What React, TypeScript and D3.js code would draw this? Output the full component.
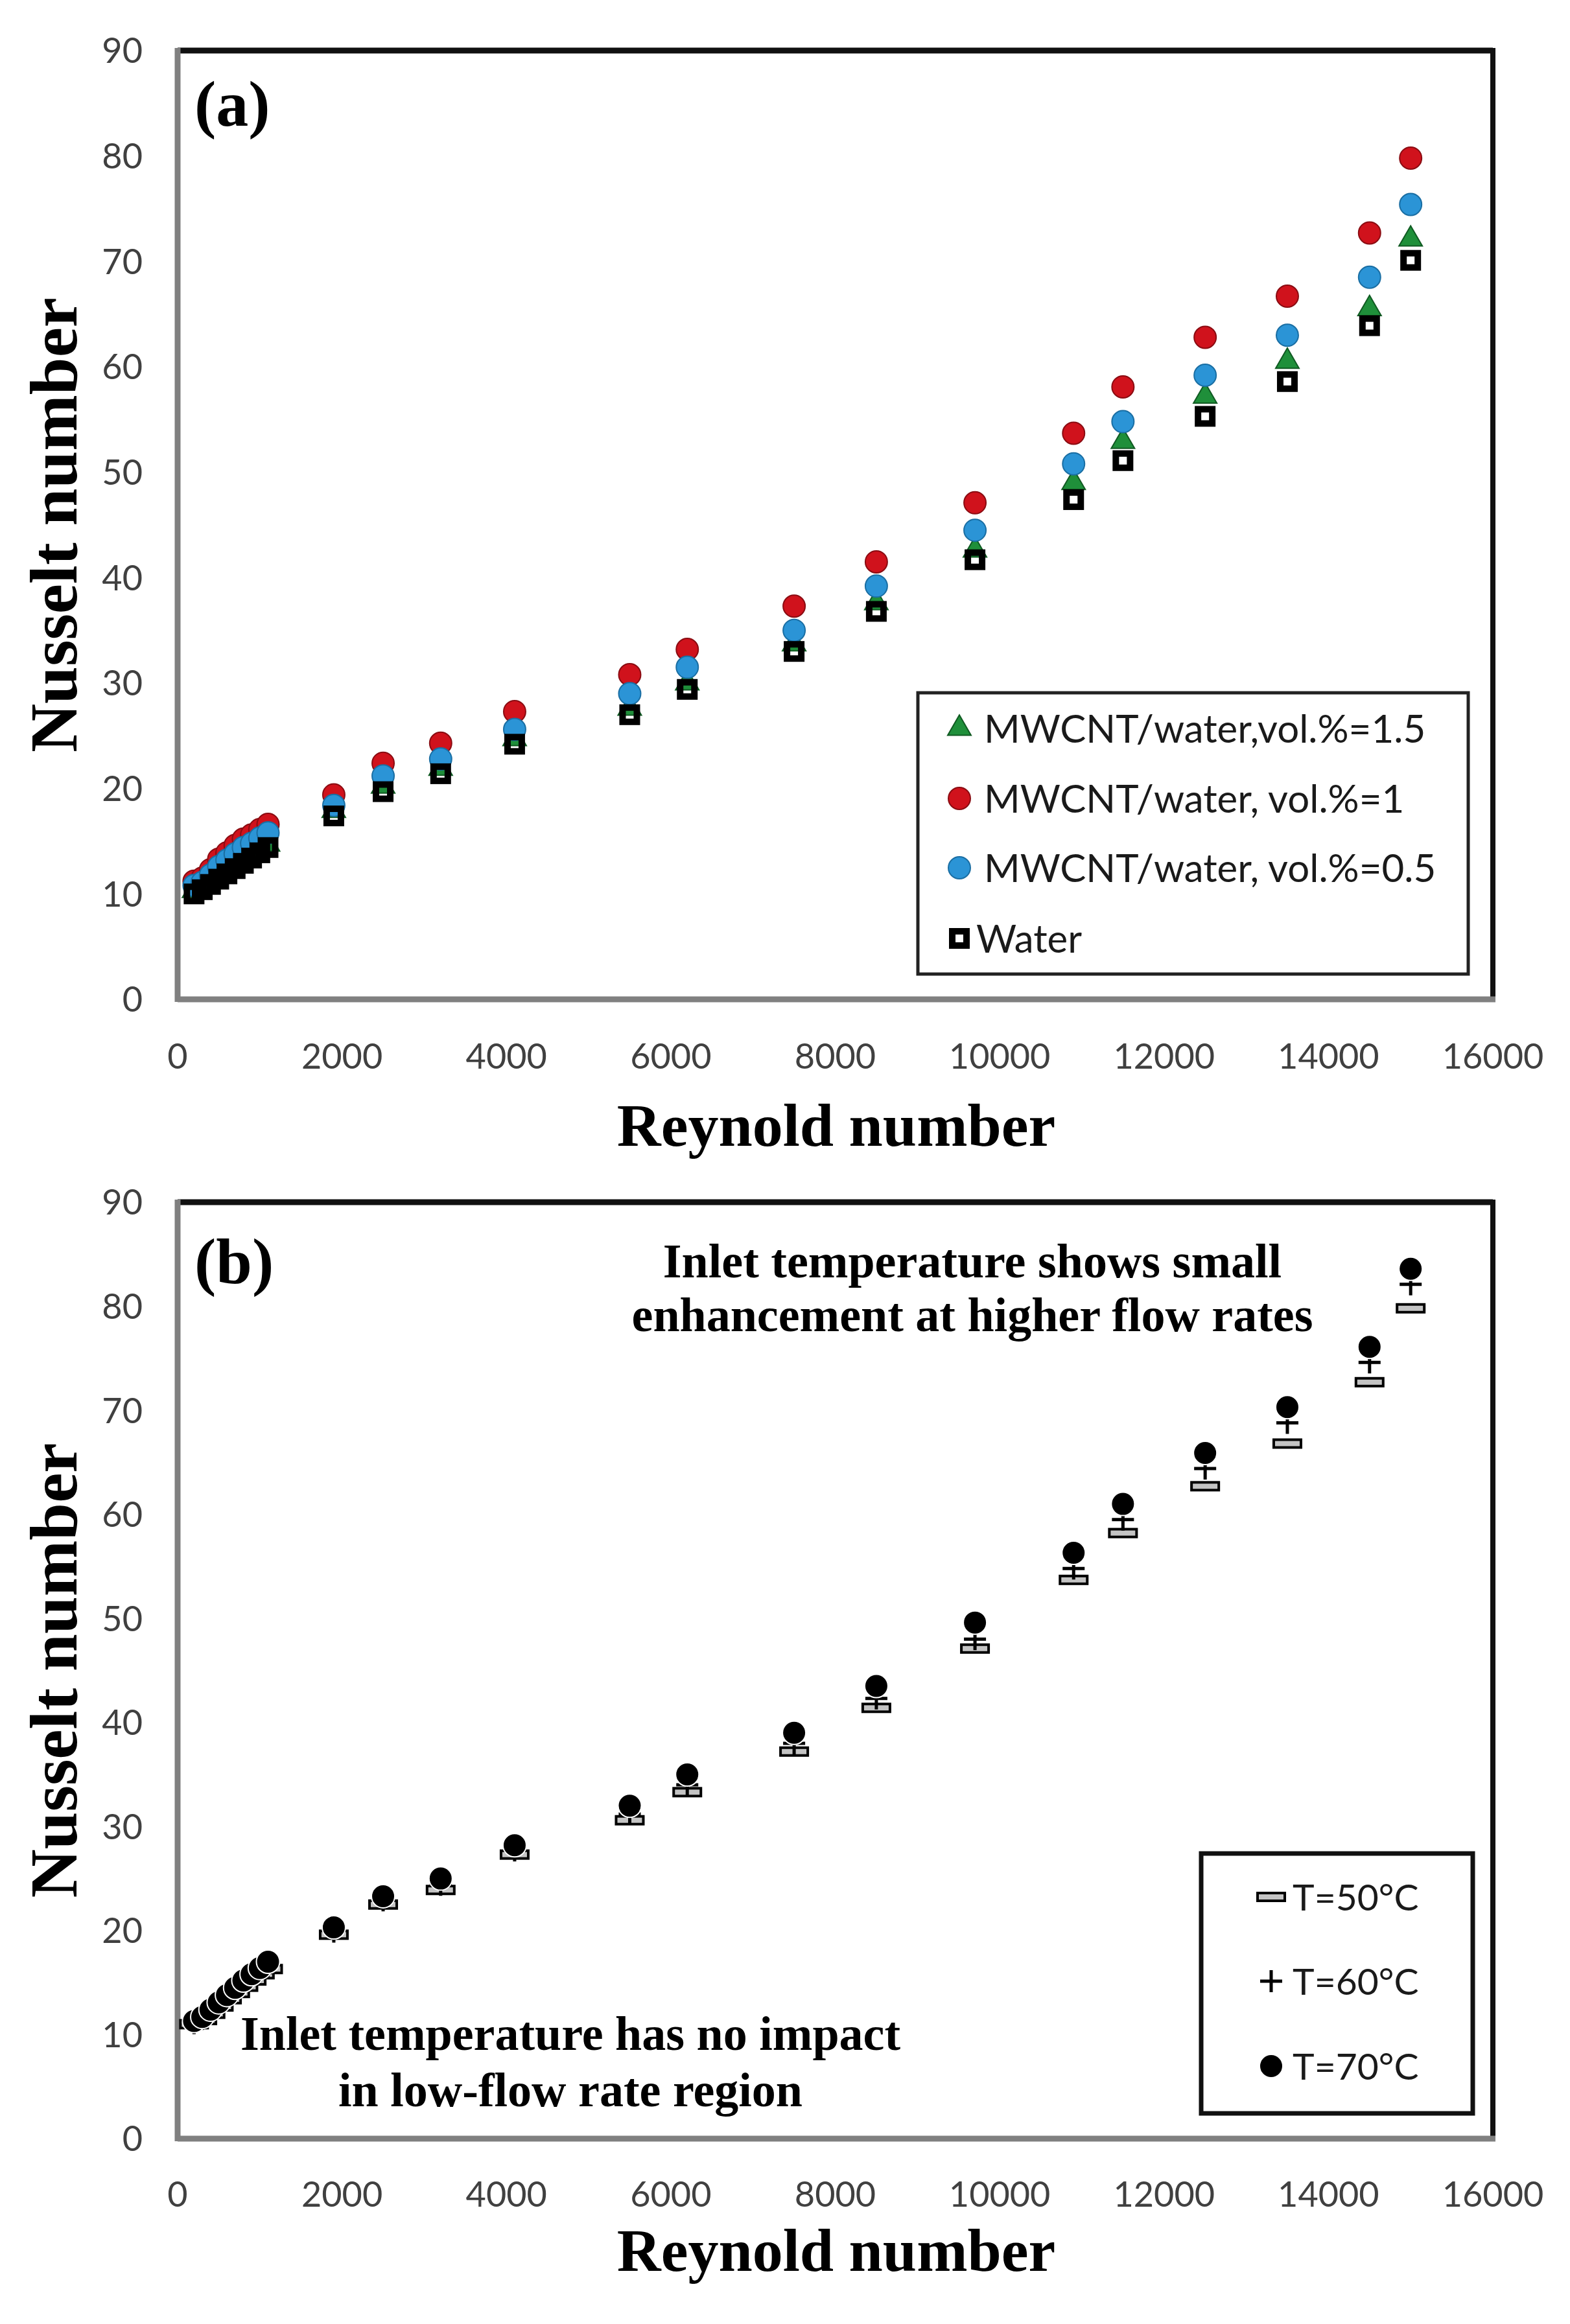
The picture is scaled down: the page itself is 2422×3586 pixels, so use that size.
import * as d3 from "d3";

// Figure geometry (pixels of the 2422x3586 canvas)
const W = 2422;
const H = 3586;
const PLOT_LEFT = 274;
const PLOT_RIGHT = 2303;

// Shared x values (Reynolds number) for both panels
const reynolds = [
  200, 300, 400, 500, 600, 700, 800, 900, 1000, 1100, 1900, 2500, 3200, 4100,
  5500, 6200, 7500, 8500, 9700, 10900, 11500, 12500, 13500, 14500, 15000,
];

// Panel (a): Nusselt number per fluid
const nuVol15 = [
  10.3, 10.7, 11.2, 11.7, 12.2, 12.7, 13.2, 13.7, 14.2, 14.7, 17.9, 20.2, 21.9,
  24.7, 27.6, 30.0, 33.7, 37.6, 42.6, 49.0, 52.9, 57.2, 60.5, 65.5, 72.1,
];
const nuVol1 = [
  11.2, 11.5, 12.3, 13.3, 13.9, 14.6, 15.2, 15.6, 16.1, 16.6, 19.4, 22.4, 24.3,
  27.3, 30.8, 33.2, 37.3, 41.5, 47.1, 53.7, 58.1, 62.8, 66.7, 72.7, 79.8,
];
const nuVol05 = [
  10.8, 11.1, 11.8, 12.6, 13.2, 13.8, 14.4, 14.8, 15.3, 15.8, 18.4, 21.2, 22.8,
  25.6, 29.0, 31.5, 35.0, 39.2, 44.5, 50.8, 54.8, 59.2, 63.0, 68.5, 75.4,
];
const nuWater = [
  10.0, 10.4, 10.9, 11.4, 11.9, 12.4, 12.9, 13.4, 13.9, 14.4, 17.4, 19.7, 21.4,
  24.2, 27.0, 29.4, 33.0, 36.8, 41.7, 47.4, 51.1, 55.3, 58.6, 63.9, 70.1,
];

// Panel (b): Nusselt number per inlet temperature
const nuT50 = [
  11.0, 11.4, 12.0, 12.7, 13.4, 14.0, 14.6, 15.2, 15.8, 16.3, 19.6, 22.5, 23.9,
  27.3, 30.6, 33.3, 37.2, 41.4, 47.1, 53.7, 58.2, 62.7, 66.8, 72.7, 79.8,
];
const nuT60 = [
  11.1, 11.5, 12.2, 12.9, 13.6, 14.3, 14.9, 15.5, 16.1, 16.6, 19.9, 22.9, 24.4,
  27.7, 31.2, 34.0, 38.0, 42.3, 48.0, 54.8, 59.5, 64.4, 68.8, 74.6, 82.1,
];
const nuT70 = [
  11.3, 11.7, 12.4, 13.1, 13.8, 14.5, 15.2, 15.8, 16.4, 17.0, 20.3, 23.3, 25.0,
  28.2, 32.0, 35.0, 39.0, 43.5, 49.6, 56.3, 61.0, 65.9, 70.3, 76.1, 83.6,
];

const legendA = [
  "MWCNT/water,vol.%=1.5",
  "MWCNT/water, vol.%=1",
  "MWCNT/water, vol.%=0.5",
  "Water",
];
const legendB = ["T=50°C", "T=60°C", "T=70°C"];
const noteHigh = ["Inlet temperature shows small", "enhancement at higher flow rates"];
const noteLow = ["Inlet temperature has no impact", "in low-flow rate region"];

const SANS = "Lato, 'Open Sans', sans-serif";
const SERIF = "'Liberation Serif', 'DejaVu Serif', serif";

type Kind = "triangle" | "red" | "blue" | "square" | "dash" | "plus" | "dot";

const triPath = d3.symbol(d3.symbolTriangle, 560)() ?? "";

function Marker({ kind, cx, cy }: { kind: Kind; cx: number; cy: number }) {
  switch (kind) {
    case "triangle":
      return (
        <path
          d={triPath}
          transform={`translate(${cx},${cy})`}
          fill="#1f8f3a"
          stroke="#105a22"
          strokeWidth={2}
        />
      );
    case "red":
      return <circle cx={cx} cy={cy} r={17} fill="#d0121c" stroke="#8a0c12" strokeWidth={2} />;
    case "blue":
      return <circle cx={cx} cy={cy} r={17} fill="#2b94d6" stroke="#1a6ea3" strokeWidth={2} />;
    case "square":
      return (
        <rect x={cx - 11} y={cy - 11} width={22} height={22} fill="none" stroke="#000" strokeWidth={10} />
      );
    case "dash":
      return (
        <rect x={cx - 21} y={cy - 6} width={42} height={12} fill="#c4c4c4" stroke="#000" strokeWidth={4} />
      );
    case "plus":
      return (
        <path
          d={`M${cx - 17},${cy}H${cx + 17}M${cx},${cy - 17}V${cy + 17}`}
          stroke="#000"
          strokeWidth={5}
          fill="none"
        />
      );
    default:
      return <circle cx={cx} cy={cy} r={18} fill="#000" stroke="#fff" strokeWidth={2} />;
  }
}

type Scales = {
  x: d3.ScaleLinear<number, number>;
  y: d3.ScaleLinear<number, number>;
};

function Panel({
  top,
  bottom,
  tag,
  tagY,
  tickY,
  titleY,
  children,
}: {
  top: number;
  bottom: number;
  tag: string;
  tagY: number;
  tickY: number;
  titleY: number;
  children: (s: Scales) => React.ReactNode;
}) {
  const x = d3.scaleLinear([0, 16000], [PLOT_LEFT, PLOT_RIGHT]);
  const y = d3.scaleLinear([0, 90], [bottom, top]);
  const midY = (top + bottom) / 2;

  return (
    <g>
      {/* tick labels */}
      {y.ticks(9).map((t) => (
        <text
          key={`y${t}`}
          x={220}
          y={y(t)}
          dy="0.36em"
          textAnchor="end"
          fontFamily={SANS}
          fontSize={54}
          fill="#404040"
        >
          {t}
        </text>
      ))}
      {x.ticks(8).map((t) => (
        <text
          key={`x${t}`}
          x={x(t)}
          y={tickY}
          textAnchor="middle"
          fontFamily={SANS}
          fontSize={54}
          fill="#404040"
        >
          {t}
        </text>
      ))}

      {/* frame: grey axes, black border */}
      <line x1={PLOT_LEFT} x2={PLOT_RIGHT} y1={top} y2={top} stroke="#111" strokeWidth={9} />
      <line x1={PLOT_RIGHT} x2={PLOT_RIGHT} y1={top - 4} y2={bottom} stroke="#111" strokeWidth={8} />
      <line x1={PLOT_LEFT} x2={PLOT_LEFT} y1={top - 4} y2={bottom + 4} stroke="#808080" strokeWidth={9} />
      <line x1={PLOT_LEFT} x2={PLOT_RIGHT + 4} y1={bottom} y2={bottom} stroke="#808080" strokeWidth={9} />

      {/* titles */}
      <text
        x={1290}
        y={titleY}
        textAnchor="middle"
        fontFamily={SERIF}
        fontWeight="bold"
        fontSize={94}
      >
        Reynold number
      </text>
      <text
        transform={`translate(118,${midY}) rotate(-90)`}
        textAnchor="middle"
        fontFamily={SERIF}
        fontWeight="bold"
        fontSize={104}
      >
        Nusselt number
      </text>
      <text x={300} y={tagY} fontFamily={SERIF} fontWeight="bold" fontSize={100}>
        {tag}
      </text>

      {children({ x, y })}
    </g>
  );
}

function PanelA() {
  const series: { kind: Kind; values: number[] }[] = [
    { kind: "triangle", values: nuVol15 },
    { kind: "red", values: nuVol1 },
    { kind: "blue", values: nuVol05 },
    { kind: "square", values: nuWater },
  ];
  const rowY = [1124, 1232, 1339, 1448];
  return (
    <Panel top={78} bottom={1542} tag="(a)" tagY={194} tickY={1649} titleY={1768}>
      {({ x, y }) => (
        <g>
          {series.map((s) => (
            <g key={s.kind}>
              {reynolds.map((re, i) => (
                <Marker key={i} kind={s.kind} cx={x(re)} cy={y(s.values[i])} />
              ))}
            </g>
          ))}
          <rect x={1416} y={1069} width={849} height={434} fill="#fff" stroke="#222" strokeWidth={5} />
          {series.map((s, i) => (
            <g key={`l${s.kind}`}>
              <Marker kind={s.kind} cx={1480} cy={rowY[i]} />
              <text
                x={s.kind === "square" ? 1506 : 1518}
                y={rowY[i]}
                dy="0.36em"
                fontFamily={SANS}
                fontSize={60}
                fill="#1a1a1a"
              >
                {legendA[i]}
              </text>
            </g>
          ))}
        </g>
      )}
    </Panel>
  );
}

function PanelB() {
  const series: { kind: Kind; values: number[] }[] = [
    { kind: "dash", values: nuT50 },
    { kind: "plus", values: nuT60 },
    { kind: "dot", values: nuT70 },
  ];
  const rowY = [2927, 3057, 3188];
  return (
    <Panel top={1855} bottom={3300} tag="(b)" tagY={1980} tickY={3405} titleY={3504}>
      {({ x, y }) => (
        <g>
          {series.map((s) => (
            <g key={s.kind}>
              {reynolds.map((re, i) => (
                <Marker key={i} kind={s.kind} cx={x(re)} cy={y(s.values[i])} />
              ))}
            </g>
          ))}
          {noteHigh.map((line, i) => (
            <text
              key={line}
              x={1500}
              y={1971 + i * 83}
              textAnchor="middle"
              fontFamily={SERIF}
              fontWeight="bold"
              fontSize={74}
            >
              {line}
            </text>
          ))}
          {noteLow.map((line, i) => (
            <text
              key={line}
              x={880}
              y={3163 + i * 87}
              textAnchor="middle"
              fontFamily={SERIF}
              fontWeight="bold"
              fontSize={74}
            >
              {line}
            </text>
          ))}
          <rect x={1853} y={2860} width={419} height={401} fill="#fff" stroke="#111" strokeWidth={7} />
          {series.map((s, i) => (
            <g key={`l${s.kind}`}>
              <Marker kind={s.kind} cx={1961} cy={rowY[i]} />
              <text x={1994} y={rowY[i]} dy="0.36em" fontFamily={SANS} fontSize={57} fill="#1a1a1a">
                {legendB[i]}
              </text>
            </g>
          ))}
        </g>
      )}
    </Panel>
  );
}

export default function App() {
  return (
    <div style={{ position: "absolute", left: 0, top: 0 }}>
      <svg width={W} height={H} viewBox={`0 0 ${W} ${H}`} style={{ display: "block", background: "#fff" }}>
        <rect width={W} height={H} fill="#fff" />
        <PanelA />
        <PanelB />
      </svg>
    </div>
  );
}
